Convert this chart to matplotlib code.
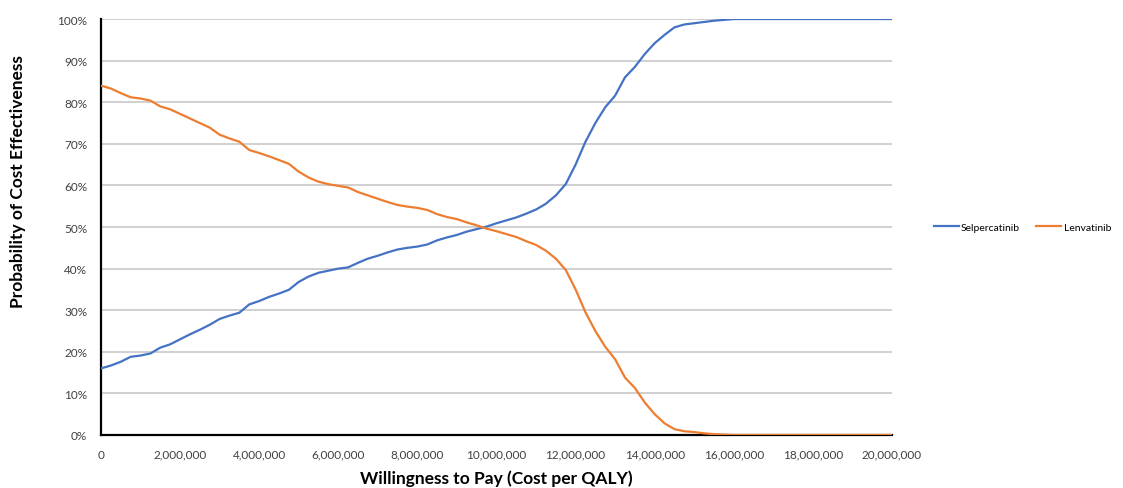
"""Cost-effectiveness acceptability curves: Selpercatinib vs Lenvatinib."""

import matplotlib
matplotlib.use("Agg")
import matplotlib.pyplot as plt
from matplotlib.ticker import FuncFormatter, MultipleLocator

plt.rcParams["font.family"] = ["Lato", "DejaVu Sans"]

# willingness-to-pay thresholds (cost per QALY), 250k steps
WTP = [i * 250_000 for i in range(81)]

# probability of being cost-effective, %
SELPERCATINIB = [
    16.0, 16.7, 17.6, 18.8, 19.1, 19.6, 21.0, 21.8, 23.0, 24.2,
    25.3, 26.5, 27.9, 28.7, 29.4, 31.4, 32.2, 33.2, 34.0, 34.9,
    36.8, 38.1, 39.0, 39.5, 40.0, 40.3, 41.4, 42.4, 43.1, 43.9,
    44.6, 45.0, 45.3, 45.8, 46.8, 47.5, 48.1, 48.9, 49.5, 50.1,
    50.9, 51.6, 52.3, 53.2, 54.2, 55.6, 57.6, 60.3, 65.0, 70.5,
    75.0, 78.8, 81.6, 86.0, 88.5, 91.6, 94.2, 96.2, 98.0, 98.7,
    99.0, 99.3, 99.6, 99.8, 100.0, 100.0, 100.0, 100.0, 100.0, 100.0,
    100.0, 100.0, 100.0, 100.0, 100.0, 100.0, 100.0, 100.0, 100.0, 100.0,
    100.0,
]
LENVATINIB = [
    84.0, 83.3, 82.2, 81.2, 80.9, 80.4, 79.0, 78.3, 77.2, 76.1,
    75.0, 73.9, 72.2, 71.3, 70.5, 68.5, 67.8, 67.0, 66.1, 65.2,
    63.3, 61.9, 60.9, 60.3, 59.9, 59.5, 58.4, 57.6, 56.8, 56.0,
    55.3, 54.9, 54.6, 54.1, 53.1, 52.4, 51.9, 51.1, 50.4, 49.6,
    49.0, 48.3, 47.6, 46.6, 45.7, 44.3, 42.4, 39.7, 35.0, 29.5,
    25.0, 21.2, 18.2, 13.8, 11.3, 7.8, 5.0, 2.8, 1.4, 0.9,
    0.7, 0.4, 0.2, 0.1, 0.0, 0.0, 0.0, 0.0, 0.0, 0.0,
    0.0, 0.0, 0.0, 0.0, 0.0, 0.0, 0.0, 0.0, 0.0, 0.0,
    0.0,
]

BLUE = "#4472C4"
ORANGE = "#ED7D31"

fig = plt.figure(figsize=(11.23, 4.89), dpi=100)
ax = fig.add_axes([0.0899, 0.1084, 0.7044, 0.8506])

ax.plot(WTP, SELPERCATINIB, color=BLUE, lw=1.6, label="Selpercatinib", zorder=3)
ax.plot(WTP, LENVATINIB, color=ORANGE, lw=1.6, label="Lenvatinib", zorder=3)

ax.set_xlim(0, 20_000_000)
ax.set_ylim(0, 100)
ax.xaxis.set_major_locator(MultipleLocator(2_000_000))
ax.yaxis.set_major_locator(MultipleLocator(10))
ax.xaxis.set_major_formatter(FuncFormatter(lambda v, _: f"{int(v):,}"))
ax.yaxis.set_major_formatter(FuncFormatter(lambda v, _: f"{int(v)}%"))
ax.tick_params(length=0, labelsize=8.5, colors="#404040")
ax.tick_params(axis="y", pad=10)
ax.tick_params(axis="x", pad=10)

ax.grid(axis="y", color="#c4c4c4", lw=1.1, zorder=0)
for side in ("top", "right"):
    ax.spines[side].set_visible(False)
for side in ("left", "bottom"):
    ax.spines[side].set_linewidth(1.6)
    ax.spines[side].set_color("black")

ax.set_xlabel("Willingness to Pay (Cost per QALY)", fontsize=12.5, fontweight="bold")
ax.set_ylabel("Probability of Cost Effectiveness", fontsize=12.5, fontweight="bold")
ax.xaxis.set_label_coords(0.5, -0.082)
ax.yaxis.set_label_coords(-0.095, 0.611)

fig.legend(
    loc="center left",
    bbox_to_anchor=(0.823, 0.534),
    ncol=2,
    frameon=False,
    fontsize=7.5,
    handlelength=2.4,
    handletextpad=0.2,
    columnspacing=1.6,
)

fig.savefig("out.png", dpi=100)
